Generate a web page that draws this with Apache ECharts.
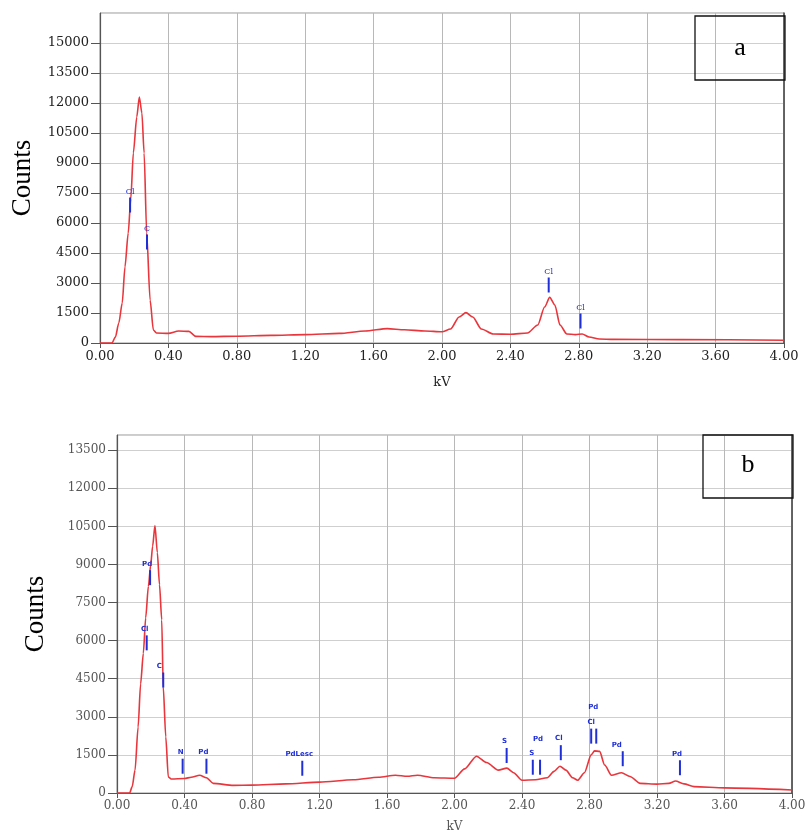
<!DOCTYPE html>
<html>
<head>
<meta charset="utf-8">
<script src="https://cdn.jsdelivr.net/npm/echarts@6/dist/echarts.min.js"></script>
<style>html,body{margin:0;padding:0;background:#fff;}#c{width:809px;height:839px;}</style>
</head>
<body>
<div id="c"></div>
<script>
// ---- Spectrum (a) ----
var kvA = [0, 0.07, 0.09, 0.11, 0.13, 0.146, 0.165, 0.18, 0.195, 0.215, 0.23, 0.245, 0.258, 0.273, 0.293, 0.312, 0.33, 0.40, 0.46, 0.52, 0.56, 0.65, 0.80, 1.00, 1.20, 1.40, 1.55, 1.68, 1.78, 1.90, 2.00, 2.05, 2.10, 2.14, 2.18, 2.23, 2.30, 2.40, 2.50, 2.56, 2.60, 2.63, 2.66, 2.69, 2.73, 2.78, 2.82, 2.86, 2.92, 3.00, 3.40, 4.00];
var countsA = [0, 0, 300, 1000, 2000, 3800, 5500, 7200, 9500, 11300, 12300, 11500, 9500, 5500, 2150, 650, 500, 480, 600, 580, 330, 320, 340, 380, 420, 480, 600, 720, 660, 600, 560, 700, 1300, 1520, 1300, 700, 450, 440, 500, 900, 1800, 2280, 1900, 900, 450, 420, 450, 300, 200, 180, 170, 140];
var markKvA = [0.176, 0.275, 2.624, 2.81];
var markYA = [6900, 5050, 2900, 1100];
var markLabA = ['Cl', 'C', 'Cl', 'Cl'];

// ---- Spectrum (b) ----
var kvB = [0, 0.075, 0.09, 0.107, 0.125, 0.14, 0.156, 0.17, 0.186, 0.20, 0.211, 0.225, 0.239, 0.252, 0.265, 0.274, 0.289, 0.304, 0.324, 0.40, 0.44, 0.49, 0.53, 0.57, 0.69, 0.80, 1.00, 1.20, 1.40, 1.55, 1.65, 1.72, 1.78, 1.88, 2.00, 2.06, 2.13, 2.19, 2.26, 2.31, 2.35, 2.40, 2.48, 2.55, 2.59, 2.625, 2.66, 2.70, 2.73, 2.77, 2.81, 2.83, 2.86, 2.89, 2.93, 2.99, 3.04, 3.10, 3.20, 3.27, 3.31, 3.36, 3.42, 3.60, 4.00];
var countsB = [0, 0, 250, 900, 2600, 4300, 5500, 6900, 8140, 9000, 9720, 10535, 9470, 8200, 6820, 4190, 2210, 630, 550, 570, 620, 700, 600, 380, 300, 310, 360, 430, 520, 620, 700, 660, 700, 600, 580, 950, 1450, 1200, 900, 980, 800, 500, 520, 600, 850, 1055, 900, 600, 500, 800, 1500, 1660, 1640, 1100, 700, 800, 650, 380, 350, 380, 470, 360, 250, 200, 120];
var markKvB = [0.196, 0.176, 0.274, 0.389, 0.53, 1.098, 2.309, 2.464, 2.507, 2.63, 2.81, 2.84, 2.997, 3.336];
var markYB = [8480, 5913, 4450, 1055, 1055, 975, 1477, 1015, 1015, 1588, 2240, 2240, 1350, 995];
var markLabB = ['Pd', 'Cl', 'C', 'N', 'Pd', 'PdLesc', 'S', 'S', 'Pd', 'Cl', 'Cl', 'Pd', 'Pd', 'Pd'];
var markOffB = [[-3,0],[-2,0],[-4,0],[-2,0],[-3,0],[-3,0],[-2,0],[-1,0],[-2,-14],[-2,0],[0,0],[-3,-15],[-6,0],[-3,0]];

function zip(a, b) { return a.map(function (v, i) { return [v, b[i]]; }); }

var chart = echarts.init(document.getElementById('c'), null, {renderer: 'canvas'});

function xAx(grid, color, fs, gap, font) {
  return {
    type: 'value', gridIndex: grid, min: 0, max: 4, interval: 0.4,
    name: 'kV', nameLocation: 'middle', nameGap: gap,
    nameTextStyle: {fontFamily: font, fontSize: fs, color: color},
    axisLine: {show: true, lineStyle: {color: '#555', width: 1.2}},
    axisTick: {show: true, length: 5, lineStyle: {color: '#555'}},
    axisLabel: {margin: 7, fontFamily: font, fontSize: fs, color: color,
      formatter: function (v) { return v.toFixed(2); }},
    splitLine: {show: true, lineStyle: {color: '#b8b8b8', width: 1}}
  };
}
function yAx(grid, max, color, fs, gap, font) {
  return {
    type: 'value', gridIndex: grid, min: 0, max: max, interval: 1500,
    name: 'Counts', nameLocation: 'middle', nameGap: gap, nameRotate: 90,
    nameTextStyle: {fontFamily: 'Liberation Serif', fontSize: 27, color: '#000'},
    axisLine: {show: true, lineStyle: {color: '#555', width: 1.2}},
    axisTick: {show: true, length: 9, lineStyle: {color: '#555'}},
    axisLabel: {margin: 11, fontFamily: font, fontSize: fs, color: color, showMaxLabel: false,
      formatter: function (v) { return String(v); }},
    splitLine: {show: true, lineStyle: {color: '#cfcfcf', width: 1}}
  };
}
function yRight(grid, max) {
  return {
    type: 'value', gridIndex: grid, min: 0, max: max, position: 'right',
    axisLine: {show: true, lineStyle: {color: '#444', width: 1.5}},
    axisTick: {show: false}, axisLabel: {show: false}, splitLine: {show: false}
  };
}

var option = {
  animation: false,
  backgroundColor: '#fff',
  grid: [
    {left: 100, top: 13, width: 684, height: 330, show: true, borderColor: '#999', borderWidth: 1, containLabel: false, outerBoundsMode: 'none'},
    {left: 117, top: 435, width: 675, height: 358, show: true, borderColor: '#999', borderWidth: 1, containLabel: false, outerBoundsMode: 'none'}
  ],
  xAxis: [xAx(0, '#222', 13, 33, 'DejaVu Serif'), xAx(1, '#555', 12, 28, 'DejaVu Serif')],
  yAxis: [
    yAx(0, 16500, '#222', 13, 63, 'DejaVu Serif'),
    yAx(1, 14100, '#555', 12, 68, 'DejaVu Serif'),
    yRight(0, 16500), yRight(1, 14100)
  ],
  series: [
    {type: 'line', xAxisIndex: 0, yAxisIndex: 0, data: zip(kvA, countsA), symbol: 'none', smooth: 0.25, smoothMonotone: 'x',
      lineStyle: {color: '#e8363c', width: 1.6}},
    {type: 'line', xAxisIndex: 1, yAxisIndex: 1, data: zip(kvB, countsB), symbol: 'none', smooth: 0.25, smoothMonotone: 'x',
      lineStyle: {color: '#e8363c', width: 1.6}},
    {type: 'scatter', xAxisIndex: 0, yAxisIndex: 0, symbol: 'rect', symbolSize: [2, 15], z: 5,
      itemStyle: {color: '#1f2fd6', opacity: 1},
      label: {show: true, position: 'top', distance: 2, fontFamily: 'DejaVu Serif', fontSize: 8, color: '#1f2fd6',
        formatter: function (p) { return markLabA[p.dataIndex]; }},
      data: zip(markKvA, markYA)},
    {type: 'scatter', xAxisIndex: 1, yAxisIndex: 1, symbol: 'rect', symbolSize: [2, 15], z: 5,
      itemStyle: {color: '#1f2fd6', opacity: 1},
      label: {show: true, position: 'top', distance: 3, fontFamily: 'DejaVu Sans', fontWeight: 'bold', fontSize: 7, color: '#1f2fd6'},
      data: markKvB.map(function (k, i) {
        return {value: [k, markYB[i]], label: {formatter: markLabB[i], offset: markOffB[i]}};
      })}
  ],
  graphic: [
    {type: 'rect', shape: {x: 695, y: 16, width: 90, height: 64}, style: {fill: 'none', stroke: '#111', lineWidth: 1.3}, z: 10},
    {type: 'text', x: 740, y: 48, style: {text: 'a', fontFamily: 'Liberation Serif', fontSize: 26, fill: '#000', textAlign: 'center', textVerticalAlign: 'middle'}, z: 10},
    {type: 'rect', shape: {x: 703, y: 435, width: 90, height: 63}, style: {fill: 'none', stroke: '#111', lineWidth: 1.3}, z: 10},
    {type: 'text', x: 748, y: 465, style: {text: 'b', fontFamily: 'Liberation Serif', fontSize: 26, fill: '#000', textAlign: 'center', textVerticalAlign: 'middle'}, z: 10}
  ]
};
chart.setOption(option);
</script>
</body>
</html>
